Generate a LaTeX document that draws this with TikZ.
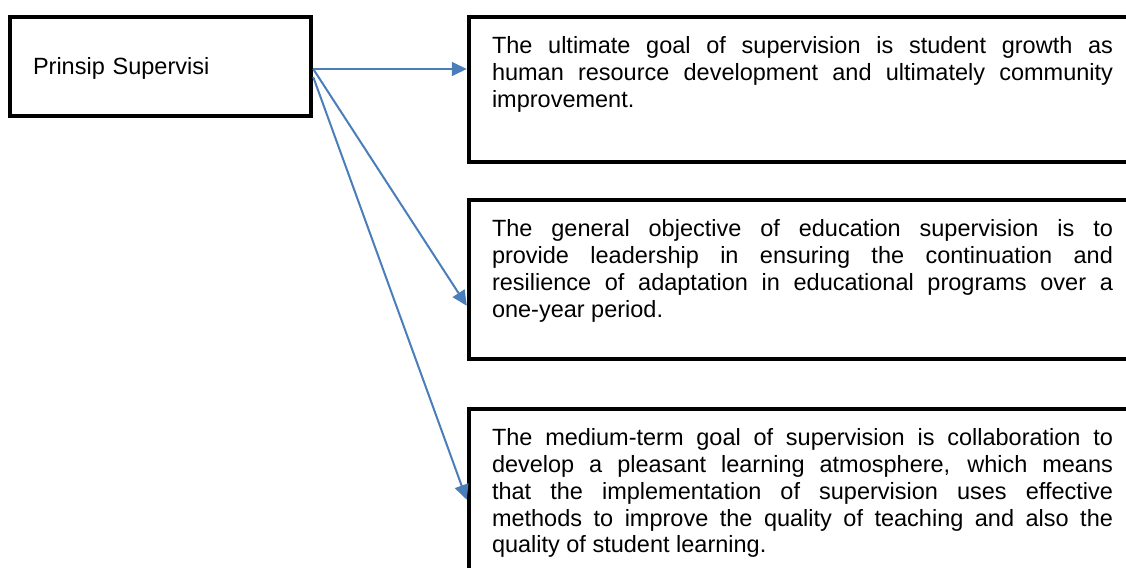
\documentclass[tikz,border=0pt]{standalone}
\usepackage{fontspec}
\setmainfont{Liberation Sans}
\usepackage{tikz}
\usetikzlibrary{arrows.meta,positioning}
\definecolor{link}{HTML}{4A7EBB}

% justified text block, fixed height, text starting at the top
\newcommand{\goaltext}[2]{\parbox[t][#1][t]{310.5pt}{\tolerance=10000\hbadness=10000\strut #2}}

\begin{document}
\begin{tikzpicture}[
    box/.style={rectangle, draw=black, line width=2.25pt, fill=white, text=black,
                font=\fontsize{11.75}{13.35}\selectfont},
    prinbox/.style={box, minimum width=150.5pt, minimum height=49.5pt,
                text width=127.5pt, inner xsep=11.5pt, align=left,
                text height=8.4pt, text depth=0pt},
    goalbox/.style={box, inner xsep=11.5pt, inner ysep=9.15pt},
    arrow/.style={-{Triangle[length=7.5pt,width=7pt]}, line width=1pt, color=link},
]
\useasboundingbox (0,0) rectangle (563pt,-284pt);

\node[prinbox,anchor=north west] (prinsip) at (3.875pt,-7.375pt) {Prinsip Supervisi};

\node[goalbox,right=76.75pt of prinsip.north east,anchor=north west] (ultimate)
    {\goaltext{54.2pt}{The ultimate goal of supervision is student growth as\linebreak
     human resource development and ultimately community\linebreak
     improvement.}};
\node[goalbox,below=16.75pt of ultimate.south west,anchor=north west] (general)
    {\goaltext{61.2pt}{The general objective of education supervision is to\linebreak
     provide leadership in ensuring the continuation and\linebreak
     resilience of adaptation in educational programs over a\linebreak
     one-year period.}};
\node[goalbox,below=22.75pt of general.south west,anchor=north west] (medium)
    {\goaltext{100pt}{The medium-term goal of supervision is collaboration to\linebreak
     develop a pleasant learning atmosphere, which means\linebreak
     that the implementation of supervision uses effective\linebreak
     methods to improve the quality of teaching and also the\linebreak
     quality of student learning.}};

\coordinate (fan) at ([yshift=-1.25pt]prinsip.east);
\draw[arrow] (fan) -- (fan -| ultimate.west);
\draw[arrow] (fan) -- ([yshift=-54pt]general.north west);
\draw[arrow] ([yshift=-4pt]fan) -- ([yshift=-46.5pt]medium.north west);

\end{tikzpicture}
\end{document}
